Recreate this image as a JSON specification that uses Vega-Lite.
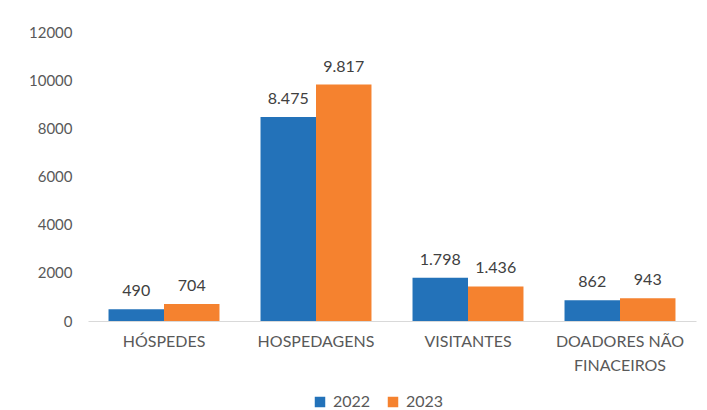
{
  "$schema": "https://vega.github.io/schema/vega-lite/v6.json",
  "width": 608,
  "height": 289,
  "autosize": "none",
  "padding": {"left": 88, "top": 32, "right": 11, "bottom": 89},
  "background": "white",
  "config": {
    "view": {"stroke": null},
    "font": "Lato",
    "locale": {"number": {"decimal": ",", "thousands": ".", "grouping": [3], "currency": ["R$", ""]}}
  },
  "data": {
    "values": [
      {"categoria": "HÓSPEDES", "ano": "2022", "valor": 490},
      {"categoria": "HÓSPEDES", "ano": "2023", "valor": 704},
      {"categoria": "HOSPEDAGENS", "ano": "2022", "valor": 8475},
      {"categoria": "HOSPEDAGENS", "ano": "2023", "valor": 9817},
      {"categoria": "VISITANTES", "ano": "2022", "valor": 1798},
      {"categoria": "VISITANTES", "ano": "2023", "valor": 1436},
      {"categoria": "DOADORES NÃO FINACEIROS", "ano": "2022", "valor": 862},
      {"categoria": "DOADORES NÃO FINACEIROS", "ano": "2023", "valor": 943}
    ]
  },
  "encoding": {
    "x": {
      "field": "categoria", "type": "nominal", "sort": null,
      "scale": {"paddingInner": 0.27, "paddingOuter": 0.135},
      "axis": {
        "title": null, "labelAngle": 0, "ticks": false,
        "domainColor": "#d9d9d9", "domainWidth": 1,
        "labelColor": "#595959", "labelFontSize": 16, "labelPadding": 12,
        "labelLineHeight": 24,
        "labelExpr": "datum.label == 'DOADORES NÃO FINACEIROS' ? ['DOADORES NÃO', 'FINACEIROS'] : datum.label"
      }
    },
    "xOffset": {"field": "ano", "type": "nominal"},
    "y": {
      "field": "valor", "type": "quantitative",
      "scale": {"domain": [0, 12000], "nice": false},
      "axis": {
        "title": null, "values": [0, 2000, 4000, 6000, 8000, 10000, 12000],
        "format": "d", "grid": false, "domain": false, "ticks": false,
        "labelColor": "#595959", "labelFontSize": 15, "labelPadding": 16
      }
    }
  },
  "layer": [
    {
      "mark": {"type": "bar"},
      "encoding": {
        "color": {
          "field": "ano", "type": "nominal",
          "scale": {"domain": ["2022", "2023"], "range": ["#2372B9", "#F5822F"]},
          "legend": {
            "title": null, "orient": "none", "direction": "horizontal",
            "legendX": 224, "legendY": 362,
            "symbolType": "square", "symbolSize": 110, "symbolStrokeWidth": 0,
            "labelFontSize": 16, "labelColor": "#595959", "columnPadding": 14, "labelOffset": 5
          }
        }
      }
    },
    {
      "mark": {"type": "text", "baseline": "bottom", "dy": -10, "fontSize": 16, "color": "#404040"},
      "encoding": {
        "text": {"field": "valor", "type": "quantitative", "format": ",d"}
      }
    }
  ]
}
